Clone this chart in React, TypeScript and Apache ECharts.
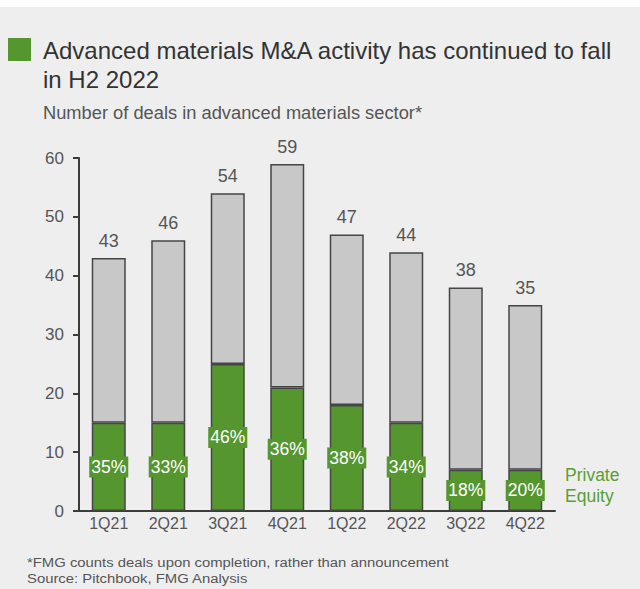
import React, { useEffect, useRef } from "react";
import * as echarts from "echarts";

const categories = ["1Q21", "2Q21", "3Q21", "4Q21", "1Q22", "2Q22", "3Q22", "4Q22"];
const totalDeals = [43, 46, 54, 59, 47, 44, 38, 35];
const privateEquity = [15, 15, 25, 21, 18, 15, 7, 7];
const otherDeals = [28, 31, 29, 38, 29, 29, 31, 28];
const peShareLabels = ["35%", "33%", "46%", "36%", "38%", "34%", "18%", "20%"];
const yTicks = [0, 10, 20, 30, 40, 50, 60];

const GREEN = "#55962f";
const GREY = "#c8c8c8";
const FONT = "Liberation Sans";

export default function App() {
  const ref = useRef<HTMLDivElement>(null);
  useEffect(() => {
    if (!ref.current) return;
    const chart = echarts.init(ref.current, undefined, { renderer: "svg" });
    chart.setOption({
      animation: false,
      backgroundColor: "#ffffff",
      textStyle: { fontFamily: FONT },
      graphic: [
        { type: "rect", shape: { x: 0, y: 7, width: 640, height: 582 }, style: { fill: "#eeeeee" }, z: -10 },
        { type: "rect", shape: { x: 8, y: 38, width: 23, height: 23 }, style: { fill: GREEN } },
        {
          type: "text",
          x: 43,
          y: 65,
          style: {
            text: "Advanced materials M&A activity has continued to fall\nin H2 2022",
            fontFamily: FONT,
            fontSize: 24,
            lineHeight: 29.5,
            verticalAlign: "middle",
            fill: "#333333",
          },
        },
        {
          type: "text",
          x: 43,
          y: 112.5,
          style: {
            text: "Number of deals in advanced materials sector*",
            fontFamily: FONT,
            fontSize: 18.3,
            verticalAlign: "middle",
            fill: "#555555",
          },
        },
        {
          type: "text",
          x: 565,
          y: 485.5,
          style: {
            text: "Private\nEquity",
            fontFamily: FONT,
            fontSize: 17.5,
            lineHeight: 21,
            verticalAlign: "middle",
            fill: "#5a9e35",
          },
        },
        {
          type: "text",
          x: 27,
          y: 570,
          scaleX: 1.1,
          style: {
            text: "*FMG counts deals upon completion, rather than announcement\nSource: Pitchbook, FMG Analysis",
            fontFamily: FONT,
            fontSize: 13.5,
            lineHeight: 16,
            verticalAlign: "middle",
            fill: "#555555",
          },
        },
      ],
      grid: { left: 79, right: 85, top: 158, bottom: 78 },
      xAxis: {
        type: "category",
        data: categories,
        axisLine: { lineStyle: { color: "#3a3d38", width: 2 } },
        axisTick: { show: false },
        axisLabel: { color: "#555555", fontSize: 16, margin: 4, fontFamily: FONT },
      },
      yAxis: {
        type: "value",
        min: yTicks[0],
        max: yTicks[yTicks.length - 1],
        interval: 10,
        splitLine: { show: false },
        axisLine: { show: true, lineStyle: { color: "#3a3d38", width: 2 } },
        axisTick: { show: true, length: 6, lineStyle: { color: "#3a3d38", width: 2 } },
        axisLabel: { color: "#555555", fontSize: 17, margin: 15, fontFamily: FONT },
      },
      series: [
        {
          name: "Private Equity",
          type: "bar",
          stack: "deals",
          barWidth: 34,
          data: privateEquity,
          itemStyle: { color: GREEN, borderColor: "#454545", borderWidth: 1.5 },
          label: {
            show: true,
            position: "inside",
            formatter: (p: any) => peShareLabels[p.dataIndex],
            color: "#ffffff",
            fontSize: 17.5,
            fontFamily: FONT,
            backgroundColor: GREEN,
            padding: [1, 2, 2, 2],
          },
          z: 3,
        },
        {
          name: "Other",
          type: "bar",
          stack: "deals",
          barWidth: 34,
          data: otherDeals,
          itemStyle: { color: GREY, borderColor: "#454545", borderWidth: 1.5 },
          label: {
            show: true,
            position: "top",
            distance: 8,
            formatter: (p: any) => String(totalDeals[p.dataIndex]),
            color: "#555555",
            fontSize: 18,
            fontFamily: FONT,
          },
          z: 2,
        },
      ],
    });
    return () => chart.dispose();
  }, []);
  return (
    <div
      ref={ref}
      style={{ position: "absolute", left: 0, top: 0, width: 640, height: 589 }}
    />
  );
}
